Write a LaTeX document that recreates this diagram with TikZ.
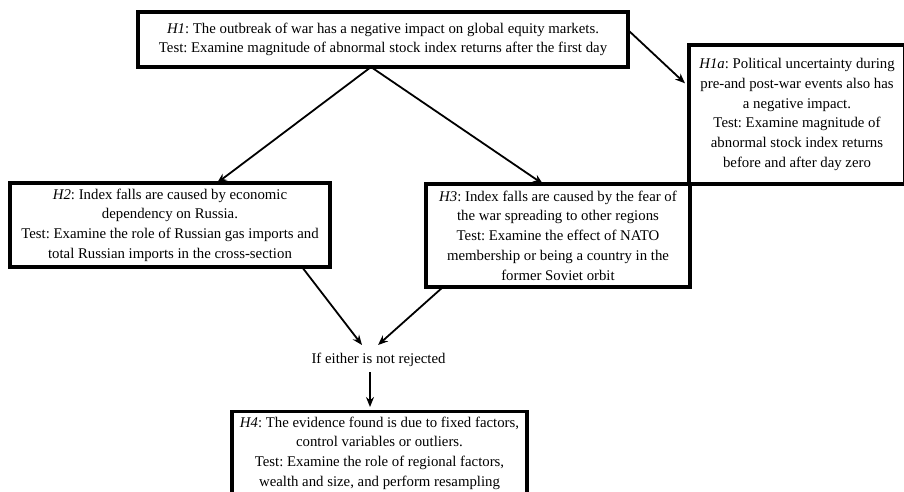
\documentclass[tikz,border=0pt]{standalone}
\usepackage{fontspec}
\setmainfont{Liberation Serif}
\usetikzlibrary{arrows.meta,calc}
\frenchspacing
\begin{document}
\begin{tikzpicture}[x=1pt,y=1pt,
  hbox/.style={draw=black,line width=3.2pt,inner sep=0pt,outer sep=0pt,align=center,
    font=\fontsize{14.8}{19.7}\selectfont,text=black},
  lbl/.style={inner sep=0pt,outer sep=0pt,font=\fontsize{14.8}{19.7}\selectfont,text=black},
  conn/.style={line width=1.8pt,draw=black,-{Stealth[length=10pt,width=8pt]}}]
\useasboundingbox (0,0) rectangle (904,-491);
\clip (0,0) rectangle (904,-491);

\node[hbox,minimum width=490pt,minimum height=55pt] (h1) at (383,-39.5)
  {\textit{H1}: The outbreak of war has a negative impact on global equity markets.\\
   Test: Examine magnitude of abnormal stock index returns after the first day};

\node[hbox,minimum width=216pt,minimum height=139pt] (h1a) at (797,-114.5)
  {\textit{H1a}: Political uncertainty during\\
   pre-and post-war events also has\\
   a negative impact.\\
   Test: Examine magnitude of\\
   abnormal stock index returns\\
   before and after day zero};

\node[hbox,minimum width=320pt,minimum height=84pt] (h2) at (170,-225)
  {\textit{H2}: Index falls are caused by economic\\
   dependency on Russia.\\
   Test: Examine the role of Russian gas imports and\\
   total Russian imports in the cross-section};

\node[hbox,minimum width=264pt,minimum height=103pt] (h3) at (558,-235.5)
  {\textit{H3}: Index falls are caused by the fear of\\
   the war spreading to other regions\\
   Test: Examine the effect of NATO\\
   membership or being a country in the\\
   former Soviet orbit};

\node[lbl] (q) at (378.5,-360) {If either is not rejected};

\node[hbox,minimum width=295pt,minimum height=82.6pt] (h4) at (379.5,-453)
  {\textit{H4}: The evidence found is due to fixed factors,\\
   control variables or outliers.\\
   Test: Examine the role of regional factors,\\
   wealth and size, and perform resampling};

\draw[conn] ($(h1.east)+(0,9.5)$) -- ($(h1a.west)+(-4,31.2)$);
\draw[conn] ($(h1.south)+(-12,0)$) -- ($(h2.north)+(47,0)$);
\draw[conn] ($(h1.south)+(-12,0)$) -- ($(h3.north)+(-15,0)$);
\draw[conn] ($(h2.south)+(132,0)$) -- ($(q.center)+(-16.5,15)$);
\draw[conn] ($(h3.south)+(-115,0)$) -- ($(q.center)+(-0.5,15)$);
\draw[conn] ($(q.center)+(-8.5,-12)$) -- ($(h4.north)+(-9.5,4.7)$);
\end{tikzpicture}
\end{document}
